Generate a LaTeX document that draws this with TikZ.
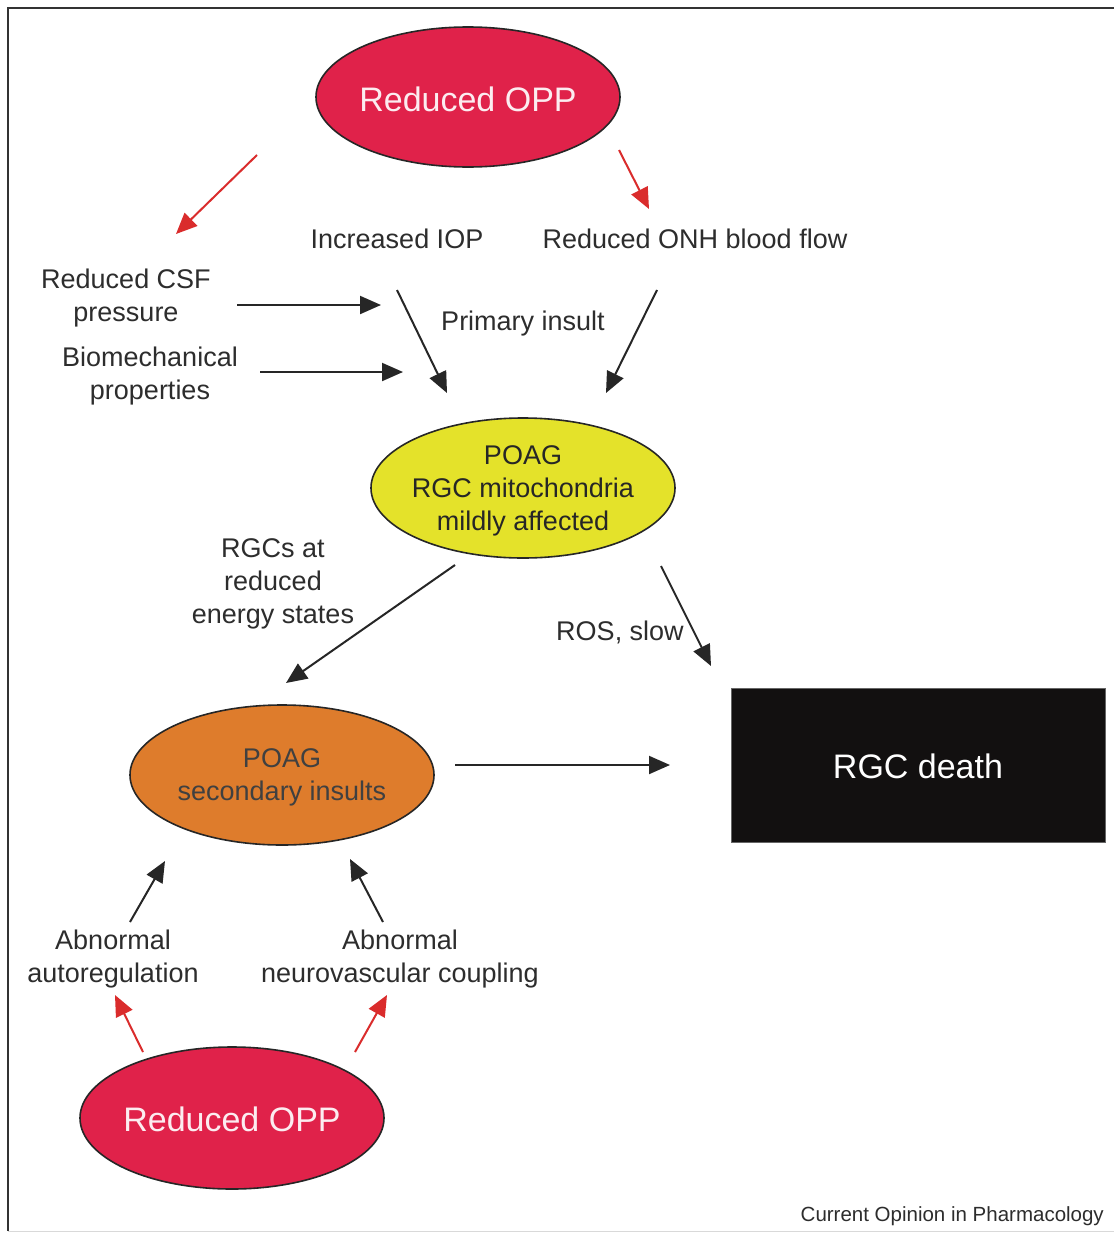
\documentclass[tikz,border=0pt]{standalone}
\usepackage{fontspec}
\setmainfont{Liberation Sans}
\usetikzlibrary{shapes.geometric,arrows.meta}
\definecolor{oppred}{RGB}{224,34,74}
\definecolor{poagyellow}{RGB}{228,226,42}
\definecolor{poagorange}{RGB}{222,124,44}
\definecolor{deathblack}{RGB}{18,16,16}
\definecolor{txtgray}{RGB}{45,45,45}
\definecolor{arrred}{RGB}{218,44,44}
\definecolor{pinkwhite}{RGB}{252,236,240}
\begin{document}
\begin{tikzpicture}[x=1pt,y=-1pt,
  ell/.style={ellipse, draw=black!85, line width=1.6pt, minimum width=304pt, minimum height=140pt, inner sep=0pt},
  lbl/.style={font=\fontsize{27}{33}\selectfont, text=txtgray, align=center, inner sep=0pt},
  bigtxt/.style={font=\fontsize{34}{40}\selectfont, align=center, inner sep=0pt},
  arr/.style={line width=2pt, draw=black!85, -{Triangle[length=21pt,width=18pt]}},
  redarr/.style={arr, draw=arrred, fill=arrred},
  frameline/.style={draw=black!80, line width=2pt}]
\useasboundingbox (0,0) rectangle (1114,1234);
\fill[white] (0,0) rectangle (1114,1234);
% frame
\coordinate (fTL) at (8,8);
\coordinate (fTR) at (1114,8);
\coordinate (fBL) at (8,1231);
\coordinate (fBR) at (1114,1231);
\draw[frameline] (fTR) -- (fTL) -- (fBL);
\draw[draw=black!15, line width=1pt] (fBL) -- (fBR);

% shapes
\node[ell, fill=oppred] (opptop) at (468,97) {};
\node[bigtxt, text=pinkwhite] (opptopt) at (468,99) {Reduced OPP};
\node[ell, fill=poagyellow] (mito) at (523,488) {};
\node[lbl, text=black!85] (mitot) at (523,491) {POAG\\RGC mitochondria\\mildly affected};
\node[ell, fill=poagorange] (sec) at (282,775) {};
\node[lbl, text=black!75] (sect) at (282,777) {POAG\\secondary insults};
\node[ell, fill=oppred, minimum height=142pt] (oppbot) at (232,1118) {};
\node[bigtxt, text=pinkwhite] (oppbott) at (232,1119) {Reduced OPP};
\node[draw=black!60, line width=0.8pt, fill=deathblack, minimum width=374pt, minimum height=154pt, inner sep=0pt] (death) at (918,765) {};
\node[bigtxt, text=white] (deatht) at (918,766) {RGC death};

% labels
\node[lbl] (iop) at (397,239) {Increased IOP};
\node[lbl] (onh) at (695,239) {Reduced ONH blood flow};
\node[lbl] (csf) at (126,298) {Reduced CSF\\pressure};
\node[lbl] (bio) at (150,376) {Biomechanical\\properties};
\node[lbl] (prim) at (523,324) {Primary insult};
\node[lbl] (energy) at (273,584) {RGCs at\\reduced\\energy states};
\node[lbl] (ros) at (620,632) {ROS, slow};
\node[lbl] (autoreg) at (113,959) {Abnormal\\autoregulation};
\node[lbl] (neuro) at (400,959) {Abnormal\\neurovascular coupling};
\node[font=\fontsize{20.5}{24}\selectfont, text=txtgray, inner sep=0pt, anchor=east] (credit) at (1104,1216) {Current Opinion in Pharmacology};

% arrow end points
\coordinate (a1s) at (257,155); \coordinate (a1e) at (176,234);
\coordinate (a2s) at (619,150); \coordinate (a2e) at (649,209);
\coordinate (a3s) at (143,1052); \coordinate (a3e) at (115,995);
\coordinate (a4s) at (355,1052); \coordinate (a4e) at (387,995);
\coordinate (b1s) at (237,305); \coordinate (b1e) at (381,305);
\coordinate (b2s) at (260,372); \coordinate (b2e) at (403,372);
\coordinate (b3s) at (397,290); \coordinate (b3e) at (447,393);
\coordinate (b4s) at (657,290); \coordinate (b4e) at (606,393);
\coordinate (b5s) at (455,565); \coordinate (b5e) at (286,683);
\coordinate (b6s) at (661,566); \coordinate (b6e) at (711,666);
\coordinate (b7s) at (455,765); \coordinate (b7e) at (670,765);
\coordinate (b8s) at (130,922); \coordinate (b8e) at (165,861);
\coordinate (b9s) at (383,922); \coordinate (b9e) at (350,859);

\draw[redarr] (a1s) -- (a1e);
\draw[redarr] (a2s) -- (a2e);
\draw[redarr] (a3s) -- (a3e);
\draw[redarr] (a4s) -- (a4e);
\draw[arr] (b1s) -- (b1e);
\draw[arr] (b2s) -- (b2e);
\draw[arr] (b3s) -- (b3e);
\draw[arr] (b4s) -- (b4e);
\draw[arr] (b5s) -- (b5e);
\draw[arr] (b6s) -- (b6e);
\draw[arr] (b7s) -- (b7e);
\draw[arr] (b8s) -- (b8e);
\draw[arr] (b9s) -- (b9e);
\end{tikzpicture}
\end{document}
